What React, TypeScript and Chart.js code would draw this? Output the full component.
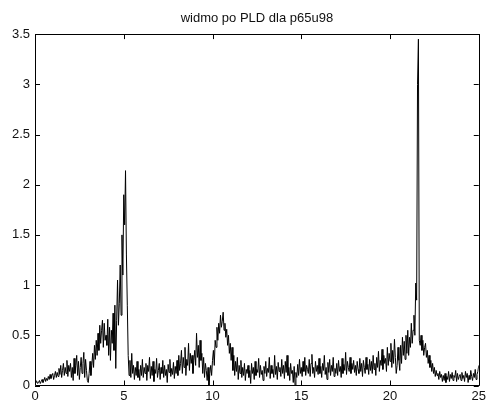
import React, { useEffect, useRef } from "react";
import { Chart, registerables } from "chart.js";

Chart.register(...registerables);

const TITLE = "widmo po PLD dla p65u98";
const X_START = 0;
const X_STEP = 0.05;
const X_TICKS = [0, 5, 10, 15, 20, 25];
const Y_TICKS = [0, 0.5, 1, 1.5, 2, 2.5, 3, 3.5];

// spectrum values, one per 0.05 on the x axis (0 .. 25), 20 per row
const SPECTRUM = [
  0.05, 0.03, 0.04, 0.02, 0.03, 0.05, 0.02, 0.04, 0.06, 0.03, 0.05, 0.08, 0.04, 0.07, 0.05, 0.09, 0.06, 0.11, 0.07, 0.10,
  0.12, 0.06, 0.10, 0.14, 0.08, 0.13, 0.09, 0.17, 0.11, 0.20, 0.08, 0.15, 0.22, 0.10, 0.18, 0.12, 0.25, 0.09, 0.20, 0.14,
  0.22, 0.08, 0.18, 0.05, 0.27, 0.12, 0.20, 0.30, 0.10, 0.24, 0.06, 0.18, 0.28, 0.12, 0.22, 0.33, 0.08, 0.26, 0.15, 0.05,
  0.03, 0.12, 0.24, 0.10, 0.20, 0.32, 0.18, 0.40, 0.26, 0.45, 0.30, 0.52, 0.35, 0.60, 0.42, 0.55, 0.65, 0.38, 0.62, 0.45,
  0.50, 0.40, 0.66, 0.30, 0.58, 0.25, 0.55, 0.42, 0.72, 0.35, 0.80, 0.17, 0.65, 1.05, 0.60, 0.82, 1.20, 0.70, 1.50, 1.10,
  1.90, 1.60, 2.14, 1.30, 0.80, 0.30, 0.10, 0.25, 0.08, 0.32, 0.12, 0.20, 0.06, 0.18, 0.10, 0.24, 0.08, 0.16, 0.05, 0.20,
  0.10, 0.26, 0.08, 0.18, 0.12, 0.22, 0.05, 0.20, 0.14, 0.28, 0.07, 0.19, 0.10, 0.24, 0.04, 0.16, 0.12, 0.27, 0.08, 0.15,
  0.22, 0.06, 0.18, 0.12, 0.25, 0.08, 0.20, 0.10, 0.16, 0.03, 0.21, 0.13, 0.26, 0.09, 0.17, 0.11, 0.23, 0.07, 0.19, 0.12,
  0.25, 0.10, 0.30, 0.15, 0.22, 0.35, 0.12, 0.28, 0.18, 0.38, 0.10, 0.26, 0.20, 0.42, 0.15, 0.32, 0.22, 0.30, 0.12, 0.25,
  0.35, 0.20, 0.52, 0.28, 0.40, 0.18, 0.45, 0.25, 0.32, 0.12, 0.28, 0.08, 0.22, 0.15, 0.05, 0.18, 0.00, 0.12, 0.20, 0.10,
  0.25, 0.35, 0.20, 0.45, 0.38, 0.58, 0.45, 0.62, 0.52, 0.70, 0.58, 0.64, 0.73, 0.55, 0.62, 0.48, 0.56, 0.40, 0.50, 0.32,
  0.42, 0.25, 0.38, 0.15, 0.30, 0.10, 0.24, 0.14, 0.28, 0.06, 0.20, 0.12, 0.25, 0.08, 0.18, 0.10, 0.22, 0.05, 0.16, 0.12,
  0.20, 0.08, 0.15, 0.02, 0.22, 0.12, 0.18, 0.06, 0.24, 0.10, 0.16, 0.13, 0.27, 0.08, 0.20, 0.11, 0.15, 0.05, 0.19, 0.12,
  0.24, 0.09, 0.17, 0.13, 0.28, 0.07, 0.20, 0.12, 0.16, 0.08, 0.30, 0.11, 0.19, 0.06, 0.23, 0.14, 0.18, 0.09, 0.26, 0.12,
  0.20, 0.07, 0.24, 0.13, 0.30, 0.10, 0.18, 0.05, 0.22, 0.12, 0.15, 0.03, 0.19, 0.00, 0.13, 0.08, 0.21, 0.10, 0.26, 0.12,
  0.18, 0.09, 0.24, 0.14, 0.28, 0.10, 0.20, 0.16, 0.12, 0.26, 0.09, 0.22, 0.31, 0.12, 0.18, 0.08, 0.24, 0.14, 0.20, 0.11,
  0.27, 0.12, 0.19, 0.08, 0.22, 0.15, 0.30, 0.11, 0.18, 0.06, 0.23, 0.13, 0.26, 0.10, 0.20, 0.14, 0.28, 0.09, 0.17, 0.12,
  0.22, 0.10, 0.25, 0.14, 0.19, 0.08, 0.27, 0.12, 0.21, 0.15, 0.33, 0.11, 0.24, 0.18, 0.14, 0.28, 0.12, 0.22, 0.16, 0.25,
  0.13, 0.20, 0.10, 0.24, 0.16, 0.12, 0.27, 0.14, 0.22, 0.09, 0.25, 0.18, 0.12, 0.28, 0.16, 0.21, 0.11, 0.26, 0.15, 0.24,
  0.12, 0.30, 0.16, 0.22, 0.10, 0.28, 0.18, 0.34, 0.14, 0.25, 0.20, 0.36, 0.16, 0.30, 0.22, 0.27, 0.14, 0.38, 0.20, 0.32,
  0.24, 0.42, 0.18, 0.35, 0.22, 0.46, 0.28, 0.12, 0.20, 0.38, 0.25, 0.15, 0.40, 0.22, 0.48, 0.30, 0.44, 0.26, 0.50, 0.32,
  0.55, 0.30, 0.48, 0.38, 0.62, 0.42, 0.55, 0.70, 0.50, 1.02, 0.85, 3.00, 3.45, 0.45, 0.40, 0.50, 0.35, 0.45, 0.30, 0.38,
  0.42, 0.28, 0.35, 0.22, 0.30, 0.18, 0.25, 0.14, 0.22, 0.12, 0.18, 0.09, 0.15, 0.10, 0.12, 0.06, 0.14, 0.08, 0.11, 0.04,
  0.10, 0.05, 0.12, 0.03, 0.09, 0.06, 0.14, 0.04, 0.11, 0.07, 0.13, 0.05, 0.10, 0.08, 0.15, 0.04, 0.12, 0.06, 0.09, 0.11,
  0.05, 0.13, 0.07, 0.10, 0.04, 0.14, 0.08, 0.12, 0.03, 0.10, 0.06, 0.15, 0.09, 0.05, 0.12, 0.08, 0.16, 0.06, 0.11, 0.14,
  0.20,
];

const FONT = "'Liberation Sans', Arial, Helvetica, sans-serif";

const boxTicks = {
  id: "boxTicks",
  afterDraw(chart: any) {
    const { ctx, chartArea } = chart;
    const { left, right, top, bottom } = chartArea;
    const xs = chart.scales.x;
    const ys = chart.scales.y;
    const len = 5;
    ctx.save();
    ctx.strokeStyle = "#000";
    ctx.lineWidth = 1;
    ctx.beginPath();
    ctx.rect(Math.round(left) + 0.5, Math.round(top) + 0.5, Math.round(right - left), Math.round(bottom - top));
    X_TICKS.forEach((v) => {
      const px = Math.round(xs.getPixelForValue(v)) + 0.5;
      ctx.moveTo(px, bottom);
      ctx.lineTo(px, bottom - len);
      ctx.moveTo(px, top);
      ctx.lineTo(px, top + len);
    });
    Y_TICKS.forEach((v) => {
      const py = Math.round(ys.getPixelForValue(v)) + 0.5;
      ctx.moveTo(left, py);
      ctx.lineTo(left + len, py);
      ctx.moveTo(right, py);
      ctx.lineTo(right - len, py);
    });
    ctx.stroke();
    ctx.restore();
  },
};

export default function App() {
  const ref = useRef<HTMLCanvasElement | null>(null);
  useEffect(() => {
    if (!ref.current) return;
    const points = SPECTRUM.map((y, i) => ({ x: X_START + i * X_STEP, y }));
    const chart = new Chart(ref.current, {
      type: "line",
      data: {
        datasets: [
          {
            data: points,
            borderColor: "#000",
            borderWidth: 1,
            pointRadius: 0,
            tension: 0,
            fill: false,
          },
        ],
      },
      options: {
        animation: false,
        responsive: false,
        devicePixelRatio: 1,
        layout: { padding: { left: 0, right: 7, top: 0, bottom: 0 } },
        plugins: {
          legend: { display: false },
          tooltip: { enabled: false },
          title: {
            display: true,
            text: TITLE,
            fullSize: false,
            color: "#111",
            font: { family: FONT, size: 13, weight: "normal" },
            padding: { top: 11, bottom: 7.5 },
          },
        },
        scales: {
          x: {
            type: "linear",
            min: 0,
            max: 25,
            grid: { display: false, drawTicks: false },
            border: { display: false },
            afterFit: (s: any) => {
              s.height = 17.5;
            },
            afterBuildTicks: (s: any) => {
              s.ticks = X_TICKS.map((v) => ({ value: v }));
            },
            ticks: {
              color: "#111",
              padding: 3,
              maxRotation: 0,
              font: { family: FONT, size: 13 },
            },
          },
          y: {
            type: "linear",
            min: 0,
            max: 3.5,
            grid: { display: false, drawTicks: false },
            border: { display: false },
            afterFit: (s: any) => {
              s.width = 35;
            },
            afterBuildTicks: (s: any) => {
              s.ticks = Y_TICKS.map((v) => ({ value: v }));
            },
            ticks: {
              color: "#111",
              padding: 5,
              font: { family: FONT, size: 13 },
              callback: (v: any) => String(v),
            },
          },
        },
      },
      plugins: [boxTicks],
    });
    return () => chart.destroy();
  }, []);
  return (
    <div style={{ position: "fixed", left: 0, top: 0, width: 489, height: 403, background: "#fff" }}>
      <canvas ref={ref} width={489} height={403} style={{ width: 489, height: 403 }} />
    </div>
  );
}
